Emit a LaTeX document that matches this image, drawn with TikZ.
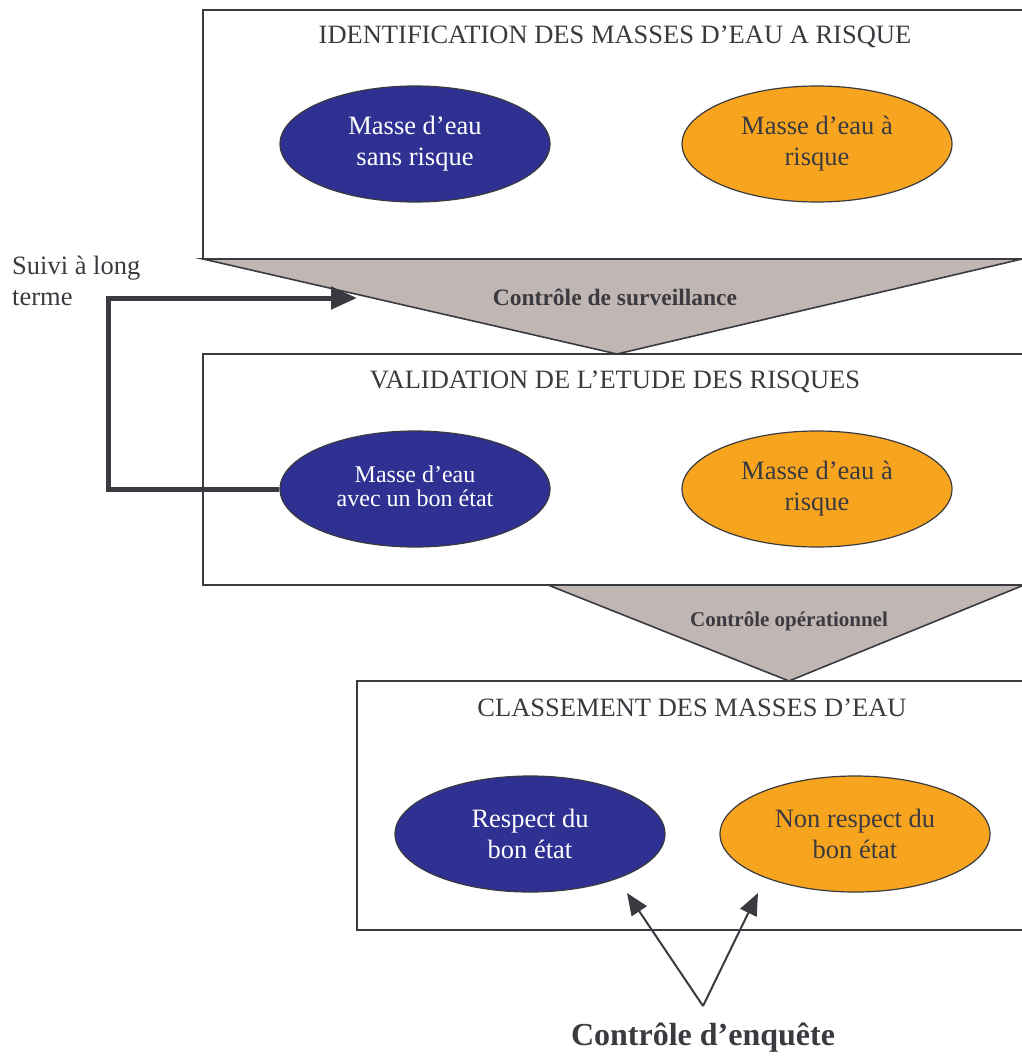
\documentclass[tikz,border=0pt]{standalone}
\usepackage{fontspec}
\setmainfont{Liberation Serif}
\usetikzlibrary{shapes.geometric,arrows.meta}
\definecolor{ink}{HTML}{3A3A40}
\definecolor{tri}{HTML}{C0B6B3}
\definecolor{eblue}{HTML}{2E3192}
\definecolor{eorange}{HTML}{F7A51F}
\tikzset{
  frame/.style={draw=ink, line width=1.6pt},
  funnel/.style={draw=ink, fill=tri, line width=1.6pt, line join=miter},
  blueell/.style={ellipse, draw=ink, line width=1.2pt, fill=eblue, text=white, minimum width=270pt, minimum height=116pt, align=center, inner sep=0pt},
  orangeell/.style={ellipse, draw=ink, line width=1.2pt, fill=eorange, text=ink, minimum width=270pt, minimum height=116pt, align=center, inner sep=0pt},
  title/.style={text=ink, font=\fontsize{26.5}{30}\selectfont, inner sep=0pt},
  tlabel/.style={text=ink, font=\bfseries\fontsize{23.5}{26}\selectfont, inner sep=0pt},
  elltext/.style={font=\fontsize{26.5}{31}\selectfont},
}
\begin{document}
\begin{tikzpicture}[x=1pt,y=-1pt]
\useasboundingbox (0,0) rectangle (1022,1057);
\begin{scope}
\clip (0,0) rectangle (1022,1057);
% box 1
\draw[frame] (1030,10) -- (203,10) -- (203,259) -- (1030,259);
% funnel 1
\draw[funnel] (203,259) -- (1022,259) -- (617,354) -- cycle;
% box 2
\draw[frame] (1030,354) -- (203,354) -- (203,585) -- (1030,585);
% funnel 2
\draw[funnel] (548,585) -- (1024,585) -- (789,681) -- cycle;
% box 3
\draw[frame] (1030,681) -- (357,681) -- (357,930) -- (1030,930);
\end{scope}

\node[title] (t1) at (615,37) {IDENTIFICATION DES MASSES D’EAU A RISQUE};
\node[title] (t2) at (615,382) {VALIDATION DE L’ETUDE DES RISQUES};
\node[title] (t3) at (692,708) {CLASSEMENT DES MASSES D’EAU};

\node[tlabel] (f1) at (615,297) {Contrôle de surveillance};
\node[tlabel, font=\bfseries\fontsize{21}{24}\selectfont] (f2) at (789,621) {Contrôle opérationnel};

\node[blueell, elltext] (b1) at (415,144) {Masse d’eau\\sans risque};
\node[orangeell, elltext] (o1) at (817,144) {Masse d’eau à\\risque};
\node[blueell, font=\fontsize{24}{26}\selectfont] (b2) at (415,489) {\raisebox{4pt}{\begin{tabular}{@{}c@{}}Masse d’eau\\[-2pt]avec un bon état\end{tabular}}};
\node[orangeell, elltext] (o2) at (817,489) {Masse d’eau à\\risque};
\node[blueell, elltext] (b3) at (530,834) {Respect du\\bon état};
\node[orangeell, elltext] (o3) at (855,834) {Non respect du\\bon état};

\node[text=ink, font=\fontsize{26.5}{31}\selectfont, align=left, anchor=north west, inner sep=0pt] (suivi) at (12,256) {Suivi à long\\terme};

\coordinate (loopL) at (108,489);
\coordinate (loopT) at (108,298);
\coordinate (loopTip) at (357,298);
\draw[draw=ink, line width=5pt, -{Triangle[length=26pt,width=22pt]}, line join=miter] (b2.west) -- (loopL) -- (loopT) -- (loopTip);

\node[text=ink, font=\bfseries\fontsize{32}{36}\selectfont, inner sep=0pt] (enq) at (703,1038) {Contrôle d’enquête};
\coordinate (apex) at (703,1006);
\coordinate (tipA) at (627,893);
\coordinate (tipB) at (758,893);
\draw[draw=ink, line width=2pt, -{Triangle[length=22pt,width=18pt]}] (apex) -- (tipA);
\draw[draw=ink, line width=2pt, -{Triangle[length=22pt,width=18pt]}] (apex) -- (tipB);
\end{tikzpicture}
\end{document}
